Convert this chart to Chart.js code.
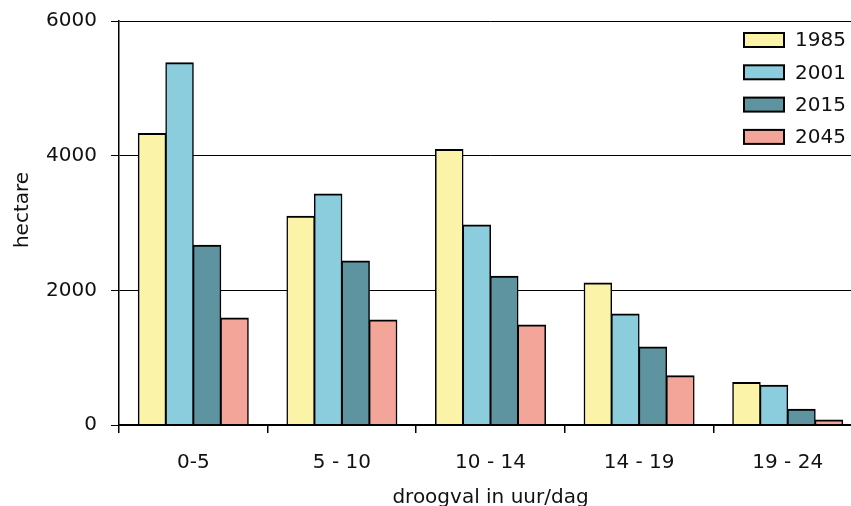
<!DOCTYPE html>
<html>
<head>
<meta charset="utf-8">
<script src="https://cdn.jsdelivr.net/npm/chart.js@4.4.1/dist/chart.umd.min.js"></script>
<style>
  html, body { margin: 0; padding: 0; background: #fff; overflow: hidden; }
  #wrap { width: 862px; height: 506px; }
</style>
</head>
<body>
<div id="wrap"><canvas id="droogvalChart" width="862" height="506"></canvas></div>
<script>
const categories = ['0-5', '5 - 10', '10 - 14', '14 - 19', '19 - 24'];
const years = ['1985', '2001', '2015', '2045'];
const values1985 = [4330, 3100, 4090, 2110, 630];
const values2001 = [5380, 3430, 2970, 1650, 590];
const values2015 = [2670, 2435, 2210, 1160, 235];
const values2045 = [1590, 1560, 1485, 730, 75];
const yTicks = [0, 2000, 4000, 6000];

const colors = ['#FAF3A8', '#8BCDDC', '#5E949F', '#F4A59A'];
const fontFamily = '"DejaVu Sans", sans-serif';

// legend drawn inside the plot, top right; y title drawn by hand
const innerLegend = {
    id: 'innerLegend',
    afterDraw(chart) {
        const ctx = chart.ctx;
        ctx.save();
        ctx.font = '20px ' + fontFamily;
        ctx.textBaseline = 'middle';
        ctx.textAlign = 'left';
        chart.data.datasets.forEach((ds, i) => {
            const y = 40 + i * 32.3;
            ctx.fillStyle = ds.backgroundColor;
            ctx.fillRect(744, y - 7, 40, 14);
            ctx.lineWidth = 2;
            ctx.strokeStyle = '#000';
            ctx.strokeRect(744, y - 7, 40, 14);
            ctx.fillStyle = '#111';
            ctx.fillText(ds.label, 795, y + 1);
        });

        ctx.translate(23, 210);
        ctx.rotate(-Math.PI / 2);
        ctx.textAlign = 'center';
        ctx.fillText('hectare', 0, 0);
        ctx.restore();
    }
};

const seriesValues = [values1985, values2001, values2015, values2045];

new Chart(document.getElementById('droogvalChart').getContext('2d'), {
    type: 'bar',
    data: {
        labels: categories,
        datasets: years.map((year, i) => ({
            label: year,
            data: seriesValues[i],
            backgroundColor: colors[i],
            borderColor: '#000',
            borderWidth: { top: 2, left: 1.5, right: 1.5, bottom: 0 },
            borderSkipped: false,
            inflateAmount: 0.5,
            barPercentage: 1,
            categoryPercentage: 0.74
        }))
    },
    options: {
        responsive: false,
        animation: false,
        layout: { padding: { top: 21, right: 0, left: 0, bottom: 0 } },
        plugins: {
            legend: { display: false },
            tooltip: { enabled: false }
        },
        scales: {
            x: {
                afterFit: (scale) => { scale.height = 81; },
                grid: {
                    offset: true,
                    drawOnChartArea: false,
                    drawTicks: true,
                    tickLength: 8,
                    color: '#000',
                    lineWidth: 1.5
                },
                border: { color: '#000', width: 1.5, z: 1 },
                ticks: {
                    color: '#111',
                    padding: 18,
                    font: { family: fontFamily, size: 20 }
                },
                title: {
                    display: true,
                    text: 'droogval in uur/dag',
                    color: '#111',
                    padding: { top: 0, bottom: -2 },
                    font: { family: fontFamily, size: 20, lineHeight: 1 }
                }
            },
            y: {
                min: 0,
                max: 6000,
                afterFit: (scale) => {
                    scale.width = 119;
                    scale.paddingTop = 0;
                    scale.paddingBottom = 0;
                },
                afterBuildTicks: (scale) => {
                    scale.ticks = yTicks.map(v => ({ value: v }));
                },
                grid: {
                    color: '#000',
                    lineWidth: 1,
                    drawTicks: true,
                    tickLength: 8
                },
                border: { color: '#000', width: 1.5 },
                ticks: {
                    color: '#111',
                    padding: 14,
                    font: { family: fontFamily, size: 20 },
                    callback: (value) => String(value)
                }
            }
        }
    },
    plugins: [innerLegend]
});
</script>
</body>
</html>
